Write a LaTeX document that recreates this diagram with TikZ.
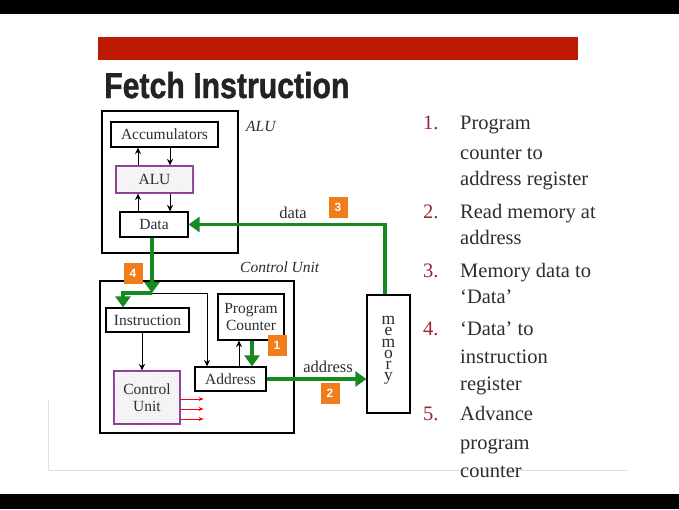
\documentclass[tikz,border=0pt]{standalone}
\usepackage{fontspec}
\setmainfont{Liberation Serif}
\newfontfamily\titlefont[BoldFeatures={FakeBold=1.3}]{Liberation Sans}
\newfontfamily\badgefont{Liberation Sans}
\usetikzlibrary{arrows.meta,patterns}
\definecolor{grn}{RGB}{22,138,30}
\definecolor{badgeorange}{RGB}{240,125,25}
\definecolor{numred}{RGB}{155,35,50}
\definecolor{barred}{RGB}{190,25,5}
\definecolor{cupurple}{RGB}{140,60,150}
\definecolor{titlegray}{RGB}{35,35,35}
\definecolor{txtgray}{RGB}{45,45,45}
\definecolor{rulegray}{RGB}{225,225,225}
\definecolor{cufill}{RGB}{248,245,248}
\begin{document}
\begin{tikzpicture}[x=1pt,y=-1pt,
  regbox/.style={draw=black,line width=1.2pt,inner sep=0pt,text=txtgray,
    font=\fontsize{15.5}{17.5}\selectfont,align=center},
  purplebox/.style={regbox,draw=cupurple,fill=cufill,
    postaction={pattern=dots,pattern color=gray!30}},
  outerbox/.style={draw=black,line width=1.5pt},
  blkarrow/.style={draw=black,line width=1pt,-{Stealth[length=6.5pt,width=6pt]}},
  redarrow/.style={draw=red,line width=1pt,-{Stealth[length=5pt,width=4pt]}},
  grnarrow/.style={draw=grn,line width=3.6pt,-{Triangle[width=15pt,length=11pt]}},
  badge/.style={fill=badgeorange,text=white,inner sep=0pt,minimum width=19pt,
    minimum height=21pt,font=\badgefont\bfseries\fontsize{12}{12}\selectfont},
  lbl/.style={inner sep=0pt,text=txtgray,font=\fontsize{16.5}{18}\selectfont},
  ilbl/.style={inner sep=0pt,text=txtgray,anchor=west,font=\itshape\fontsize{15.5}{18}\selectfont},
  itemtxt/.style={anchor=base west,inner sep=0pt,text=txtgray,font=\fontsize{20.5}{22}\selectfont},
  itemnum/.style={anchor=base west,inner sep=0pt,text=numred,font=\fontsize{20.5}{22}\selectfont}]
\useasboundingbox (0,0) rectangle (679,509);
\fill[white] (0,0) rectangle (679,509);
\fill[black] (0,0) rectangle (679,14);
\fill[black] (0,494) rectangle (679,509);
\fill[barred] (98,37) rectangle (578,60);
\node[anchor=base west,inner sep=0pt,text=titlegray] (title) at (104,98)
  {\scalebox{0.84}[1]{\titlefont\bfseries\fontsize{36}{40}\selectfont Fetch Instruction}};
% grey rules
\draw[rulegray,line width=1pt] (48,400) -- (48,470) -- (628,470);
% outer boxes
\draw[outerbox] (102,111) rectangle (238,253);
\draw[outerbox] (100,281) rectangle (294,433);
\node[ilbl] (lblalu) at (246,126) {ALU};
\node[ilbl] (lblcu) at (240,267) {Control Unit};
% registers
\node[regbox,minimum width=107pt,minimum height=25pt] (accum) at (164.5,134.5) {Accumulators};
\node[purplebox,minimum width=77pt,minimum height=27pt] (alu) at (154.5,179.5) {ALU};
\node[regbox,minimum width=68pt,minimum height=25pt] (data) at (154,224.5) {Data};
\node[regbox,minimum width=83pt,minimum height=24pt] (instr) at (147.5,320) {Instruction};
\node[purplebox,minimum width=66pt,minimum height=53pt] (cu) at (147,397.5) {Control\\Unit};
\node[regbox,minimum width=66pt,minimum height=46pt] (pc) at (251,317) {Program\\Counter};
\node[regbox,minimum width=71pt,minimum height=24pt] (addr) at (230.5,379) {Address};
\node[regbox,minimum width=43pt,minimum height=118pt] (mem) at (388.5,354) {};
\node[inner sep=0pt,text=txtgray,align=center,font=\fontsize{17.5}{11.3}\selectfont] (memtxt) at (388.5,350.5) {m\\e\\m\\o\\r\\y};
% black arrows in ALU part
\draw[blkarrow] ([xshift=-16.5pt]alu.north) -- ([xshift=-16.5pt]alu.north |- accum.south);
\draw[blkarrow] ([xshift=15.5pt]alu.north |- accum.south) -- ([xshift=15.5pt]alu.north);
\draw[blkarrow] ([xshift=-16pt]data.north) -- ([xshift=-16pt]data.north |- alu.south);
\draw[blkarrow] ([xshift=16pt]data.north |- alu.south) -- ([xshift=16pt]data.north);
% control unit part
\coordinate (j) at (152,293);
\draw[blkarrow] (j) -| ([xshift=-23.5pt]addr.north);
\draw[blkarrow] ([xshift=-5.5pt]instr.south) -- ([xshift=-5.5pt]instr.south |- cu.north);
\draw[blkarrow] ([xshift=8.5pt]addr.north) -- ([xshift=8.5pt]addr.north |- pc.south);
\foreach \dy/\nm in {-1.5/r1,-11.5/r2,-21.5/r3}{
  \draw[redarrow] ([yshift=\dy pt]cu.east) -- ++(23,0) coordinate (\nm);
}
% green paths
\draw[grnarrow] ([xshift=-3.5pt]mem.north) |- (data.east);
\draw[grnarrow] ([xshift=-2pt]data.south) -- (j);
\draw[grnarrow] (j) -| ([xshift=-24.5pt]instr.north);
\draw[grnarrow] ([xshift=1pt]pc.south) -- ([xshift=1pt]pc.south |- addr.north);
\draw[grnarrow] (addr.east) -- (addr.east -| mem.west);
% labels
\node[lbl] (lbldata) at (293,213) {data};
\node[lbl] (lbladdr) at (328,367) {address};
% badges
\node[badge] (b1) at (277,345) {1};
\node[badge] (b2) at (330,393) {2};
\node[badge] (b3) at (338,207) {3};
\node[badge] (b4) at (133,273) {4};
% numbered list
\node[itemnum] (n1) at (423,129) {1.};
\node[itemtxt] (t1a) at (460,129) {Program};
\node[itemtxt] (t1b) at (460,159) {counter to};
\node[itemtxt] (t1c) at (460,185) {address register};
\node[itemnum] (n2) at (423,218) {2.};
\node[itemtxt] (t2a) at (460,218) {Read memory at};
\node[itemtxt] (t2b) at (460,244) {address};
\node[itemnum] (n3) at (423,277) {3.};
\node[itemtxt] (t3a) at (460,277) {Memory data to};
\node[itemtxt] (t3b) at (460,303) {‘Data’};
\node[itemnum] (n4) at (423,335) {4.};
\node[itemtxt] (t4a) at (460,335) {‘Data’ to};
\node[itemtxt] (t4b) at (460,363) {instruction};
\node[itemtxt] (t4c) at (460,390) {register};
\node[itemnum] (n5) at (423,420) {5.};
\node[itemtxt] (t5a) at (460,420) {Advance};
\node[itemtxt] (t5b) at (460,449) {program};
\node[itemtxt] (t5c) at (460,477) {counter};
\end{tikzpicture}
\end{document}
